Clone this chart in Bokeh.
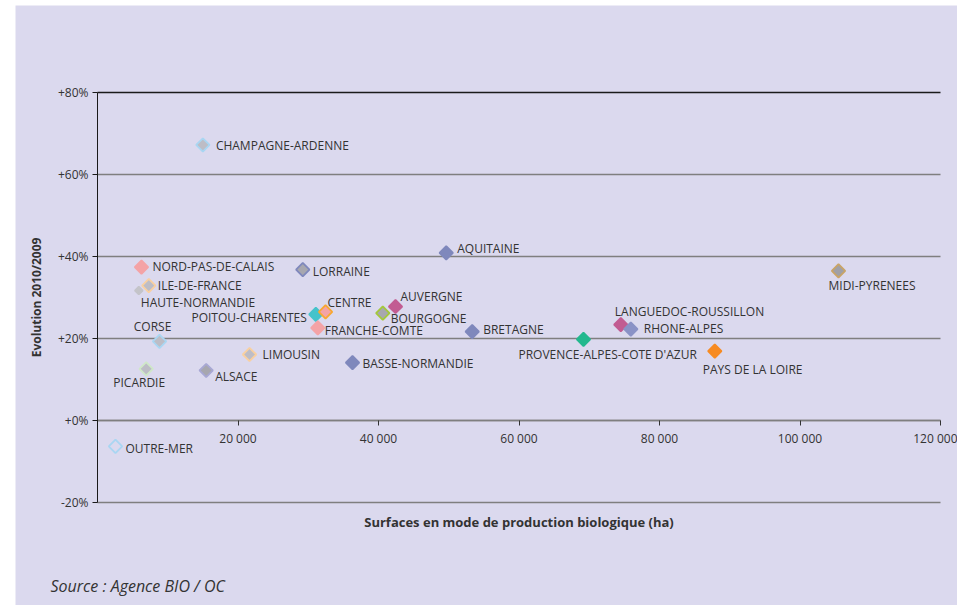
import math
from bokeh.plotting import figure
from bokeh.models import ColumnDataSource, FixedTicker, LinearAxis, Range1d, Label, Spacer
from bokeh.layouts import row, column
from bokeh.embed import file_html
from bokeh.resources import INLINE
from bokeh.core.properties import value

# ---------------- data ----------------
regions = [
    "CHAMPAGNE-ARDENNE", "NORD-PAS-DE-CALAIS", "ILE-DE-FRANCE", "HAUTE-NORMANDIE",
    "CORSE", "PICARDIE", "ALSACE", "OUTRE-MER", "LIMOUSIN", "LORRAINE",
    "POITOU-CHARENTES", "CENTRE", "FRANCHE-COMTE", "BOURGOGNE", "AUVERGNE",
    "BASSE-NORMANDIE", "AQUITAINE", "BRETAGNE", "PROVENCE-ALPES-COTE D'AZUR",
    "LANGUEDOC-ROUSSILLON", "RHONE-ALPES", "PAYS DE LA LOIRE", "MIDI-PYRENEES",
]
surface_ha = [
    15000, 6260, 7300, 5880,
    8830, 6930, 15470, 2560, 21640, 29220,
    31080, 32460, 31360, 40610, 42420,
    36300, 49640, 53340, 69180,
    74490, 75920, 87870, 105480,
]
evolution_pct = [
    67.2, 37.4, 32.9, 31.7,
    19.3, 12.6, 12.2, -6.3, 16.1, 36.8,
    25.9, 26.5, 22.6, 26.2, 27.8,
    14.1, 40.9, 21.7, 19.8,
    23.4, 22.3, 16.9, 36.5,
]

x_ticks = [20000, 40000, 60000, 80000, 100000, 120000]
x_tick_labels = ["20 000", "40 000", "60 000", "80 000", "100 000", "120 000"]
y_ticks = [-20, 0, 20, 40, 60, 80]
y_tick_labels = ["-20%", "+0%", "+20%", "+40%", "+60%", "+80%"]

x_title = "Surfaces en mode de production biologique (ha)"
y_title = "Evolution 2010/2009"
source_note = "Source : Agence BIO / OC"

# ---------------- styles ----------------
BG = "#dbd9ee"
GRAY = "#a7a7af"
LGRAY = "#bdbdc6"
BLUE = "#7f88bc"
fill_colors = [
    LGRAY, "#f4a3a6", LGRAY, "#c4c4c9",
    LGRAY, LGRAY, GRAY, BG, LGRAY, GRAY,
    "#45c3cb", "#f4a3a6", "#f4a3a6", GRAY, "#c25c92",
    BLUE, BLUE, BLUE, "#23b88e",
    "#c25c92", "#8a92c6", "#f78b22", "#a0a0a6",
]
line_colors = [
    "#a9d6f2", "#f4a3a6", "#f9d0a0", "#c4c4c9",
    "#a9d6f2", "#cfe8c8", "#a8a8d4", "#a9d6f2", "#f9d0a0", BLUE,
    "#45c3cb", "#f8a830", "#f4a3a6", "#a4c83a", "#c25c92",
    BLUE, BLUE, BLUE, "#23b88e",
    "#c25c92", "#8a92c6", "#f78b22", "#c9a466",
]
marker_sizes = [9.5] * len(regions)
marker_sizes[3] = 5.5

label_dx = [13, 11, 9, 2, -7, -7, 9, 10, 13, 10, -9, 2, 7, 8, 5, 10, 11, 11, -65, -6, 13, -12, -10]
label_dy = [1, -1, 0, 12, -15, 14, 6, 2, 0, 2, 3, -9, 3, 5, -10, 1, -4, -2, 15, -13, -1, 18, 15]
label_align = ["left"] * len(regions)
label_align[4] = "center"
label_align[5] = "center"
label_align[10] = "right"

src = ColumnDataSource(dict(
    x=surface_ha, y=evolution_pct, name=regions,
    fill=fill_colors, line=line_colors, size=marker_sizes,
    dx=label_dx, dy=label_dy, align=label_align,
))

FONT = "Open Sans"
TXT = "#333333"

# ---------------- layout (pixels) ----------------
W, H = 942, 600            # figure size; frame fills the whole figure
PLOT_L, PLOT_R = 82, 925   # plot area inside the figure, x
PLOT_T, PLOT_B = 87, 497   # plot area inside the figure, y
X_MIN, X_MAX = 0, x_ticks[-1]
Y_MIN, Y_MAX = y_ticks[0], y_ticks[-1]
px_x = (X_MAX - X_MIN) / (PLOT_R - PLOT_L)
px_y = (Y_MAX - Y_MIN) / (PLOT_B - PLOT_T)
x_range = Range1d(X_MIN - PLOT_L * px_x, X_MAX + (W - PLOT_R) * px_x)
y_range = Range1d(Y_MIN - (H - PLOT_B) * px_y, Y_MAX + PLOT_T * px_y)

p = figure(
    width=W, height=H, x_range=x_range, y_range=y_range,
    output_backend="svg", toolbar_location=None,
    x_axis_location=None, y_axis_location=None,
    min_border_left=0, min_border_right=0, min_border_top=0, min_border_bottom=0,
    background_fill_color=BG, border_fill_color=BG,
)
p.outline_line_color = None
p.xgrid.visible = False
p.ygrid.visible = False

# horizontal grid lines stopping at the last x tick
n = len(y_ticks)
grid_colors = ["#7f7f7f"] * (n - 1) + ["#1a1a1a"]
p.segment(x0=[X_MIN] * n, x1=[X_MAX] * n, y0=y_ticks, y1=y_ticks,
          line_color=grid_colors, line_width=1.5, level="underlay")

# y axis at x = 0
ya = LinearAxis(fixed_location=X_MIN, bounds=(Y_MIN, Y_MAX))
ya.ticker = FixedTicker(ticks=y_ticks)
ya.major_label_overrides = {t: l for t, l in zip(y_ticks, y_tick_labels)}
ya.axis_line_color = "#1a1a1a"
ya.axis_line_width = 1
ya.major_tick_out = 5
ya.major_tick_in = 0
ya.major_tick_line_color = "#1a1a1a"
ya.minor_tick_line_color = None
ya.major_label_text_font = FONT
ya.major_label_text_font_size = "12px"
ya.major_label_text_color = TXT
ya.major_label_standoff = 4
ya.axis_label = y_title
ya.axis_label_text_font = FONT
ya.axis_label_text_font_size = "12px"
ya.axis_label_text_font_style = "bold"
ya.axis_label_text_color = TXT
ya.axis_label_standoff = 10
p.add_layout(ya, "left")

# x axis crossing at y = 0
xa = LinearAxis(fixed_location=0, bounds=(X_MIN, X_MAX))
xa.ticker = FixedTicker(ticks=x_ticks)
xa.major_label_overrides = {t: l for t, l in zip(x_ticks, x_tick_labels)}
xa.axis_line_color = "#7f7f7f"
xa.axis_line_width = 1.5
xa.major_tick_out = 5
xa.major_tick_in = 0
xa.major_tick_line_color = "#333333"
xa.minor_tick_line_color = None
xa.major_label_text_font = FONT
xa.major_label_text_font_size = "12px"
xa.major_label_text_color = TXT
xa.major_label_standoff = 4
p.add_layout(xa, "below")

# axis title and source note
p.add_layout(Label(x=(X_MIN + X_MAX) / 2, y=Y_MIN - 19 * px_y, text=x_title,
                   text_align="center", text_baseline="middle",
                   text_font=FONT, text_font_size="13px", text_font_style="bold", text_color=TXT))
p.add_layout(Label(x=X_MIN - 47 * px_x, y=Y_MIN - 83 * px_y, text=source_note,
                   text_align="left", text_baseline="middle",
                   text_font=FONT, text_font_size="16px", text_font_style="italic", text_color=TXT))

# markers
p.scatter("x", "y", source=src, marker="square", angle=math.pi / 4, size="size",
          fill_color="fill", line_color="line", line_width=1.8)

# labels
p.text("x", "y", text="name", source=src, x_offset="dx", y_offset="dy",
       text_align="align", text_baseline="middle",
       text_font=value(FONT), text_font_size="12px", text_color=TXT)

layout = column(Spacer(width=957, height=5), row(Spacer(width=15, height=H), p))
open("out.html", "w").write(file_html(layout, INLINE))
